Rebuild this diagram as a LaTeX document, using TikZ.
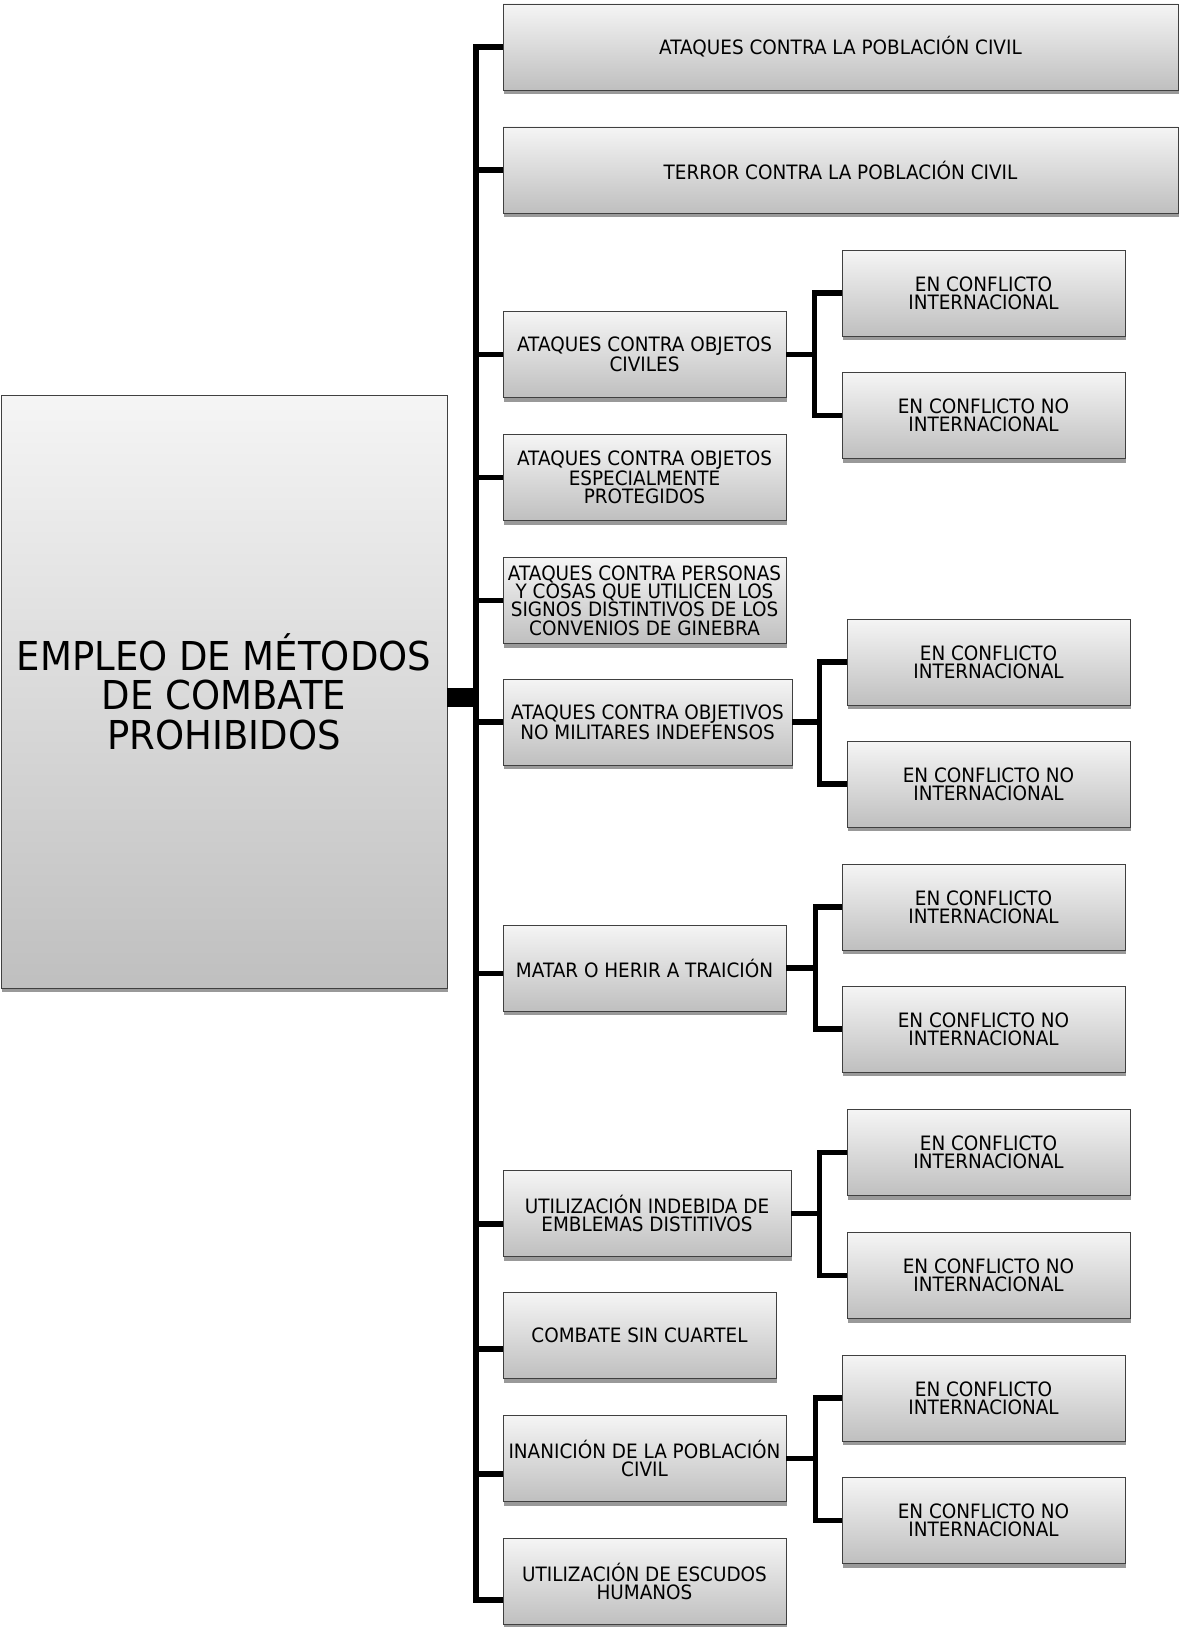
\documentclass[tikz,border=0pt]{standalone}
\usepackage{fontspec}
\setmainfont{DejaVu Sans}[FakeStretch=0.93]
\usetikzlibrary{shadows}

\begin{document}
\begin{tikzpicture}[x=1pt, y=-1pt,
  box/.style={draw=black!75, line width=0.8pt, top color=black!4, bottom color=black!25,
    drop shadow={shadow xshift=1pt, shadow yshift=-4pt, fill=black!40, opacity=1},
    align=center, inner sep=0pt, minimum height=86pt,
    font=\fontsize{19.8}{18.3}\selectfont},
  mainbox/.style={box, minimum width=446pt, minimum height=593pt,
    font=\fontsize{39.8}{39.4}\selectfont},
  wide/.style={box, minimum width=675pt},
  mid/.style={box, minimum width=283pt},
  sub/.style={box, minimum width=283pt},
  branch/.style={draw=black, line width=5.5pt},
  hubbar/.style={draw=black, line width=19pt}]
  \useasboundingbox (0,0) rectangle (1178,1627);

  % root
  \node[mainbox] (root) at (224,691.5) {EMPLEO DE MÉTODOS\\DE COMBATE\\PROHIBIDOS};
  \coordinate (hub) at (476,697);

  % first level
  \node[wide] (b1) at (840.5,47) {ATAQUES CONTRA LA POBLACIÓN CIVIL};
  \node[wide] (b2) at (840.5,170) {TERROR CONTRA LA POBLACIÓN CIVIL};
  \node[mid] (b3) at (644.5,354.5) {ATAQUES CONTRA OBJETOS\\CIVILES};
  \node[mid] (b4) at (644.5,477.5) {ATAQUES CONTRA OBJETOS\\ESPECIALMENTE\\PROTEGIDOS};
  \node[mid] (b5) at (644.5,600.5) {ATAQUES CONTRA PERSONAS\\Y COSAS QUE UTILICEN LOS\\SIGNOS DISTINTIVOS DE LOS\\CONVENIOS DE GINEBRA};
  \node[mid, minimum width=289pt] (b6) at (647.5,722) {ATAQUES CONTRA OBJETIVOS\\NO MILITARES INDEFENSOS};
  \node[mid] (b7) at (644.5,968) {MATAR O HERIR A TRAICIÓN};
  \node[mid, minimum width=288pt] (b8) at (647,1213.5) {UTILIZACIÓN INDEBIDA DE\\EMBLEMAS DISTITIVOS};
  \node[mid, minimum width=273pt] (b9) at (639.5,1335.5) {COMBATE SIN CUARTEL};
  \node[mid] (b10) at (644.5,1458.5) {INANICIÓN DE LA POBLACIÓN\\CIVIL};
  \node[mid] (b11) at (644.5,1581.5) {UTILIZACIÓN DE ESCUDOS\\HUMANOS};

  % second level
  \node[sub] (s3a) at (983.5,293) {EN CONFLICTO\\INTERNACIONAL};
  \node[sub] (s3b) at (983.5,415.5) {EN CONFLICTO NO\\INTERNACIONAL};
  \node[sub] (s6a) at (988.5,662) {EN CONFLICTO\\INTERNACIONAL};
  \node[sub] (s6b) at (988.5,784) {EN CONFLICTO NO\\INTERNACIONAL};
  \node[sub] (s7a) at (983.5,907) {EN CONFLICTO\\INTERNACIONAL};
  \node[sub] (s7b) at (983.5,1029) {EN CONFLICTO NO\\INTERNACIONAL};
  \node[sub] (s8a) at (988.5,1152.5) {EN CONFLICTO\\INTERNACIONAL};
  \node[sub] (s8b) at (988.5,1275.5) {EN CONFLICTO NO\\INTERNACIONAL};
  \node[sub] (s10a) at (983.5,1398) {EN CONFLICTO\\INTERNACIONAL};
  \node[sub] (s10b) at (983.5,1520.5) {EN CONFLICTO NO\\INTERNACIONAL};

  % bus
  \draw[hubbar] (root.east |- hub) -- (hub);
  \draw[branch] (hub) |- (b1.west);
  \draw[branch] (hub) |- (b2.west);
  \draw[branch] (hub) |- (b3.west);
  \draw[branch] (hub) |- (b4.west);
  \draw[branch] (hub) |- (b5.west);
  \draw[branch] (hub) |- (b6.west);
  \draw[branch] (hub) |- ([yshift=-5.7pt]b7.west);
  \draw[branch] (hub) |- ([yshift=-10.7pt]b8.west);
  \draw[branch] (hub) |- ([yshift=-13.5pt]b9.west);
  \draw[branch] (hub) |- ([yshift=-15.5pt]b10.west);
  \draw[branch] (hub) |- ([yshift=-18.3pt]b11.west);

  % forks
  \path (b3.east) ++(28,0) coordinate (f3);
  \path (b6.east) ++(27,0) coordinate (f6);
  \path (b7.east) ++(29,0) coordinate (f7);
  \path (b8.east) ++(28,0) coordinate (f8);
  \path (b10.east) ++(29,0) coordinate (f10);
  \draw[branch] (b3.east) -- (f3);
  \draw[branch] (s3a.west) -| (f3) |- (s3b.west);
  \draw[branch] (b6.east) -- (f6);
  \draw[branch] (s6a.west) -| (f6) |- (s6b.west);
  \draw[branch] (b7.east) -- (f7);
  \draw[branch] (s7a.west) -| (f7) |- (s7b.west);
  \draw[branch] (b8.east) -- (f8);
  \draw[branch] (s8a.west) -| (f8) |- (s8b.west);
  \draw[branch] (b10.east) -- (f10);
  \draw[branch] (s10a.west) -| (f10) |- (s10b.west);
\end{tikzpicture}
\end{document}
